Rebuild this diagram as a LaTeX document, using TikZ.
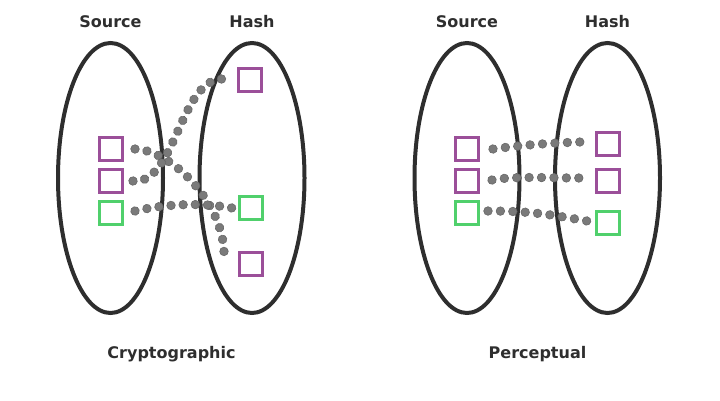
\documentclass[tikz,border=0pt]{standalone}
\usepackage{fontspec}
\setmainfont{DejaVu Sans}
\usetikzlibrary{shapes.geometric,positioning,decorations.markings}
\definecolor{ink}{HTML}{2E2E2E}
\definecolor{hashpurple}{HTML}{9B4F99}
\definecolor{hashgreen}{HTML}{50D06C}
\definecolor{dotgray}{HTML}{7A7A7A}

\begin{document}
\begin{tikzpicture}[x=1pt,y=1pt,
  every node/.style={font=\fontsize{16}{19}\selectfont\bfseries,text=ink},
  ring/.style={draw=ink,line width=4pt,ellipse,minimum width=105pt,minimum height=270pt,inner sep=0pt},
  box/.style={draw,line width=3pt,minimum size=23pt,inner sep=0pt},
  link/.style={postaction=decorate,decoration={markings,
    mark=between positions 0 and 1 step #1 with {\filldraw[fill=dotgray,draw=dotgray!85!black,line width=0.6pt] circle (4.3pt);}}}]
  \useasboundingbox (0,0) rectangle (720,400);
  \begin{scope}
    \node[ring] (srcA) at (110.5,222) {};
    \node[ring] (hashA) at (252,222) {};
    \node[above=10pt of srcA] (srcAlabel) {Source};
    \node[above=10pt of hashA] (hashAlabel) {Hash};
    \node[box,draw=hashpurple] (cs1) at (111,251) {};
    \node[box,draw=hashpurple] (cs2) at (111,219) {};
    \node[box,draw=hashgreen] (cs3) at (111,187) {};
    \node[box,draw=hashpurple] (ch1) at (250,320) {};
    \node[box,draw=hashgreen] (ch2) at (251,192) {};
    \node[box,draw=hashpurple] (ch3) at (251,136) {};
    \path[link=0.0830] ([xshift=11pt]cs1.east) .. controls +(35,-1) and +(-2,52) .. ([xshift=-14pt,yshift=12pt]ch3.west);
    \path[link=0.0830] ([xshift=9pt]cs2.east) .. controls +(42,-4) and +(-42,-1) .. ([xshift=-15pt,yshift=1pt]ch1.west);
    \path[link=0.1245] ([xshift=11pt,yshift=2pt]cs3.east) .. controls +(35,8) and +(-27,5) .. ([xshift=-6pt]ch2.west);
    \node[anchor=base] (cryptolabel) at (171.5,42) {Cryptographic};
  \end{scope}
  \begin{scope}[shift={(356.5,0)}]
    \node[ring] (srcB) at (110.5,222) {};
    \node[ring] (hashB) at (251,222) {};
    \node[above=10pt of srcB] (srcBlabel) {Source};
    \node[above=10pt of hashB] (hashBlabel) {Hash};
    \node[box,draw=hashpurple] (ps1) at (110.5,251) {};
    \node[box,draw=hashpurple] (ps2) at (110.5,219) {};
    \node[box,draw=hashgreen] (ps3) at (110.5,187) {};
    \node[box,draw=hashpurple] (ph1) at (251,256) {};
    \node[box,draw=hashpurple] (ph2) at (251,219) {};
    \node[box,draw=hashgreen] (ph3) at (251,177) {};
    \path[link=0.1425] ([xshift=13pt]ps1.east) .. controls +(30,4) and +(-30,-1) .. ([xshift=-14.5pt,yshift=2pt]ph1.west);
    \path[link=0.1425] ([xshift=12pt,yshift=1pt]ps2.east) .. controls +(20,4) and +(-30,0) .. ([xshift=-15.5pt,yshift=3pt]ph2.west);
    \path[link=0.1245] ([xshift=8pt,yshift=2pt]ps3.east) .. controls +(45,0) and +(-35,6) .. ([xshift=-7.5pt,yshift=2pt]ph3.west);
    \node[anchor=base] (perclabel) at (181,42) {Perceptual};
  \end{scope}
\end{tikzpicture}
\end{document}
